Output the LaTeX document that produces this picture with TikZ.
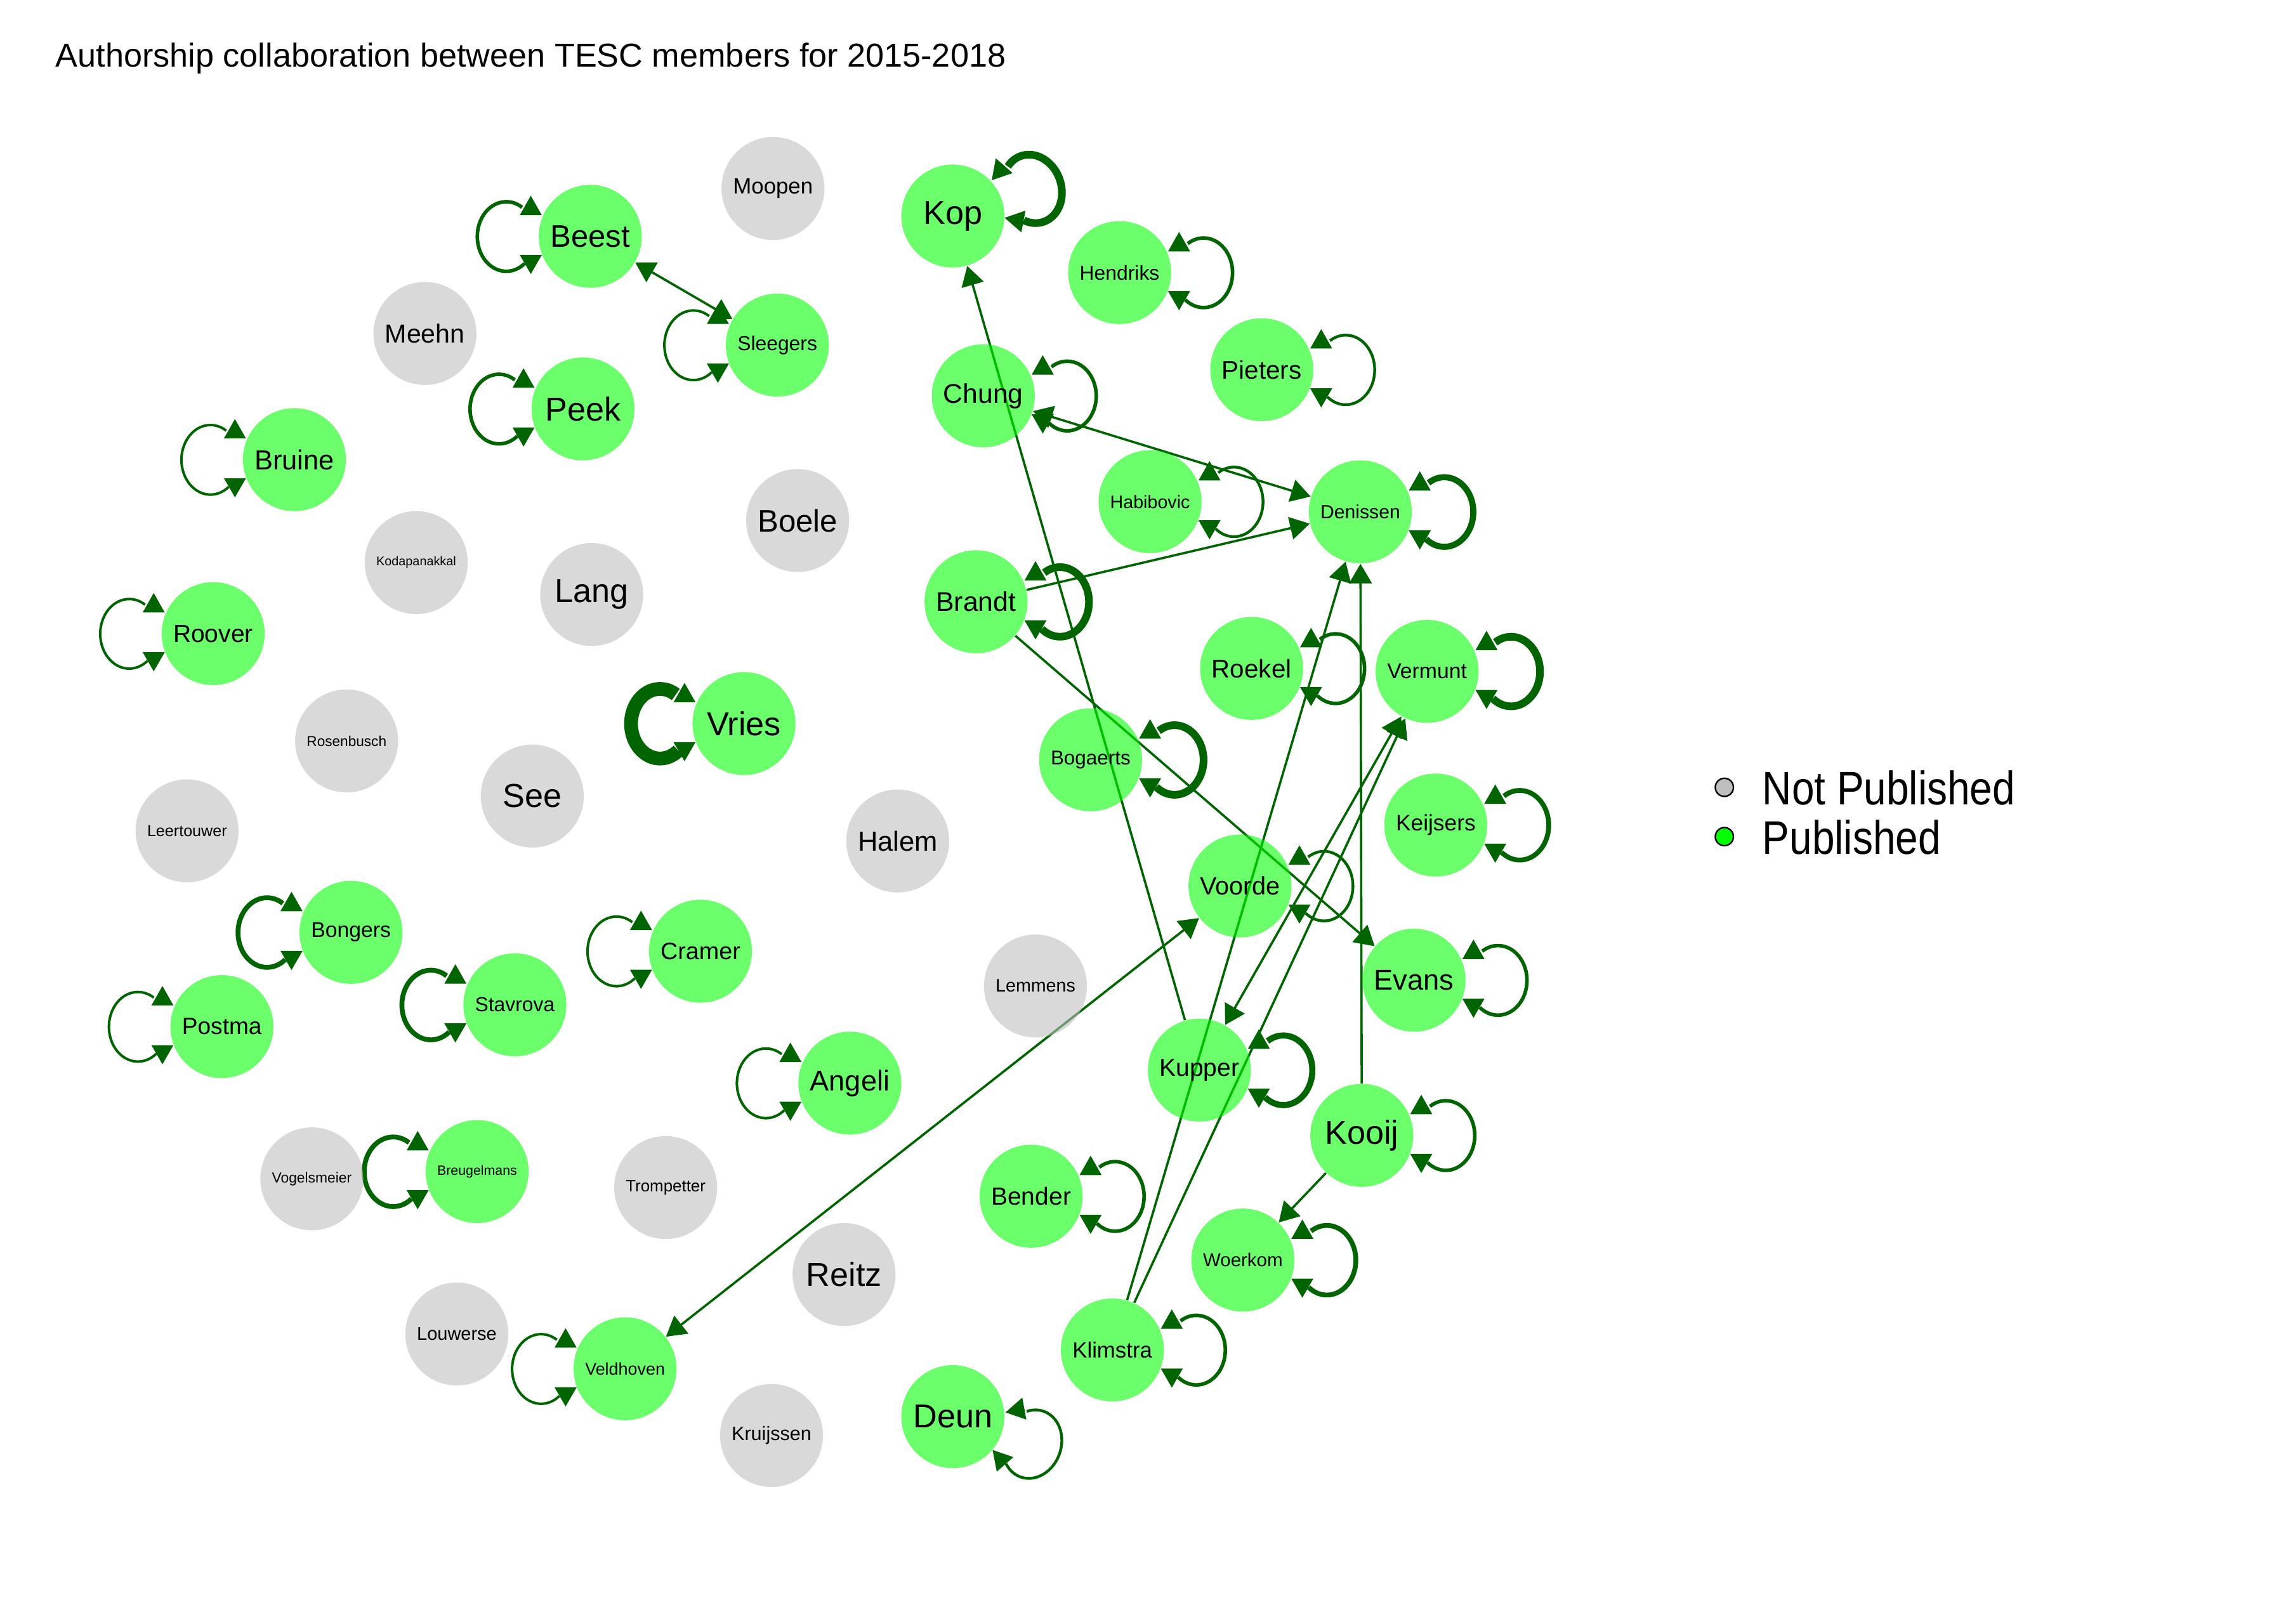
\documentclass[tikz,border=0pt]{standalone}
\usepackage{fontspec}
\setmainfont{Liberation Sans}
\usepackage{graphicx}
\usetikzlibrary{arrows.meta, backgrounds}

\definecolor{pubgreen}{RGB}{0,255,0}
\definecolor{nopubgray}{RGB}{190,190,190}
\definecolor{edgegreen}{RGB}{0,100,0}

% long names are shrunk to the width of a node, short ones keep the full size
\newsavebox\namebox
\newcommand\fitname[1]{\sbox\namebox{#1}%
	\ifdim\wd\namebox>11mm\resizebox{11mm}{!}{#1}\else\usebox\namebox\fi}

\tikzset{
	selfloop/.pic={
			\draw [edgegreen] (47,20) arc[start angle=123, end angle=-129, x radius=20, y radius=24];
			\fill [edgegreen] (41,28) -- (33.4,14.6) -- (48.6,14.6) -- cycle;
			\fill [edgegreen] (41,-26) -- (33.4,-12.8) -- (48.6,-12.8) -- cycle;
		}
}

\begin{document}
\begin{tikzpicture}[
		x=0.2mm, y=0.2mm,
		member/.style={circle, fill opacity=0.58, text opacity=1, minimum size=14.2mm,
				inner sep=0pt, font=\fontsize{13}{15}\selectfont},
		pub/.style={member, fill=pubgreen},
		nopub/.style={member, fill=nopubgray},
		link/.style={draw=edgegreen, line width=0.9pt, -{Triangle[length=2.7mm, width=3.1mm]}},
		twoway/.style={link, {Triangle[length=2.7mm, width=3.1mm]}-{Triangle[length=2.7mm, width=3.1mm]}},
		legenddot/.style={circle, draw=black, line width=0.6pt, minimum size=2.5mm, inner sep=0pt},
		legendtext/.style={anchor=base west, inner sep=0pt, font=\fontsize{18.5}{22}\selectfont},
	]
	\useasboundingbox (0,0) rectangle (1568,1120);

	\node (title) [anchor=base west, inner sep=0pt, font=\fontsize{13}{15}\selectfont]
	at (38, 1074) {Authorship collaboration between TESC members for 2015-2018};

	% members without publications
	\node (moopen)       [nopub] at (533, 990) {\fitname{Moopen}};
	\node (meehn)        [nopub] at (293, 890) {\fitname{Meehn}};
	\node (boele)        [nopub] at (550, 761) {\fitname{Boele}};
	\node (kodapanakkal) [nopub] at (287, 732) {\fitname{Kodapanakkal}};
	\node (lang)         [nopub] at (408, 710) {\fitname{Lang}};
	\node (rosenbusch)   [nopub] at (239, 609) {\fitname{Rosenbusch}};
	\node (see)          [nopub] at (367, 571) {\fitname{See}};
	\node (leertouwer)   [nopub] at (129, 547) {\fitname{Leertouwer}};
	\node (halem)        [nopub] at (619, 540) {\fitname{Halem}};
	\node (lemmens)      [nopub] at (714, 440) {\fitname{Lemmens}};
	\node (vogelsmeier)  [nopub] at (215, 307) {\fitname{Vogelsmeier}};
	\node (trompetter)   [nopub] at (459, 301) {\fitname{Trompetter}};
	\node (reitz)        [nopub] at (582, 241) {\fitname{Reitz}};
	\node (louwerse)     [nopub] at (315, 200) {\fitname{Louwerse}};
	\node (kruijssen)    [nopub] at (532, 130) {\fitname{Kruijssen}};

	% members with publications, left group
	\node (beest)       [pub] at (407, 957) {\fitname{Beest}};
	\node (sleegers)    [pub] at (536, 882) {\fitname{Sleegers}};
	\node (peek)        [pub] at (402, 838) {\fitname{Peek}};
	\node (bruine)      [pub] at (203, 803) {\fitname{Bruine}};
	\node (roover)      [pub] at (147, 683) {\fitname{Roover}};
	\node (vries)       [pub] at (513, 621) {\fitname{Vries}};
	\node (bongers)     [pub] at (242, 477) {\fitname{Bongers}};
	\node (postma)      [pub] at (153, 412) {\fitname{Postma}};
	\node (stavrova)    [pub] at (355, 427) {\fitname{Stavrova}};
	\node (cramer)      [pub] at (483, 464) {\fitname{Cramer}};
	\node (angeli)      [pub] at (586, 373) {\fitname{Angeli}};
	\node (breugelmans) [pub] at (329, 312) {\fitname{Breugelmans}};
	\node (veldhoven)   [pub] at (431, 176) {\fitname{Veldhoven}};

	% members with publications, right group
	\node (kop)       [pub] at (657, 971) {\fitname{Kop}};
	\node (hendriks)  [pub] at (772, 932) {\fitname{Hendriks}};
	\node (pieters)   [pub] at (870, 865) {\fitname{Pieters}};
	\node (chung)     [pub] at (678, 847) {\fitname{Chung}};
	\node (habibovic) [pub] at (793, 774) {\fitname{Habibovic}};
	\node (denissen)  [pub] at (938, 767) {\fitname{Denissen}};
	\node (brandt)    [pub] at (673, 705) {\fitname{Brandt}};
	\node (roekel)    [pub] at (863, 659) {\fitname{Roekel}};
	\node (vermunt)   [pub] at (984, 657) {\fitname{Vermunt}};
	\node (bogaerts)  [pub] at (752, 596) {\fitname{Bogaerts}};
	\node (keijsers)  [pub] at (990, 551) {\fitname{Keijsers}};
	\node (voorde)    [pub] at (855, 509) {\fitname{Voorde}};
	\node (evans)     [pub] at (975, 444) {\fitname{Evans}};
	\node (kupper)    [pub] at (827, 382) {\fitname{Kupper}};
	\node (kooij)     [pub] at (939, 337) {\fitname{Kooij}};
	\node (bender)    [pub] at (711, 295) {\fitname{Bender}};
	\node (woerkom)   [pub] at (857, 251) {\fitname{Woerkom}};
	\node (klimstra)  [pub] at (767, 189) {\fitname{Klimstra}};
	\node (deun)      [pub] at (657, 143) {\fitname{Deun}};

	% legend
	\node (dotno)  [legenddot, fill=nopubgray] at (1189, 577) {};
	\node (dotyes) [legenddot, fill=pubgreen]  at (1189, 543) {};
	\node (keyno)  [legendtext] at (1215, 565) {\scalebox{0.86}[1]{Not Published}};
	\node (keyyes) [legendtext] at (1215, 531) {\scalebox{0.86}[1]{Published}};

	\begin{scope}[on background layer]
		% own papers: loops, left group
		\pic [xscale=-1, line width=1.4pt] at (beest) {selfloop};
		\pic [xscale=-1, line width=1pt]   at (sleegers) {selfloop};
		\pic [xscale=-1, line width=1.4pt] at (peek) {selfloop};
		\pic [xscale=-1, line width=1pt]   at (bruine) {selfloop};
		\pic [xscale=-1, line width=1pt]   at (roover) {selfloop};
		\pic [xscale=-1, line width=5.4pt] at (vries) {selfloop};
		\pic [xscale=-1, line width=1.9pt] at (bongers) {selfloop};
		\pic [xscale=-1, line width=1pt]   at (postma) {selfloop};
		\pic [xscale=-1, line width=1.9pt] at (stavrova) {selfloop};
		\pic [xscale=-1, line width=1pt]   at (cramer) {selfloop};
		\pic [xscale=-1, line width=1pt]   at (angeli) {selfloop};
		\pic [xscale=-1, line width=1.9pt] at (breugelmans) {selfloop};
		\pic [xscale=-1, line width=1pt]   at (veldhoven) {selfloop};
		% own papers: loops, right group
		\pic [rotate=19, line width=3pt] at (kop) {selfloop};
		\pic [line width=1.4pt] at (hendriks) {selfloop};
		\pic [line width=1.1pt] at (pieters) {selfloop};
		\pic [line width=1.4pt] at (chung) {selfloop};
		\pic [line width=1.1pt] at (habibovic) {selfloop};
		\pic [line width=2.4pt] at (denissen) {selfloop};
		\pic [line width=3pt]   at (brandt) {selfloop};
		\pic [line width=1.4pt] at (roekel) {selfloop};
		\pic [line width=3pt]   at (vermunt) {selfloop};
		\pic [line width=3pt]   at (bogaerts) {selfloop};
		\pic [line width=1.9pt] at (keijsers) {selfloop};
		\pic [line width=1.1pt] at (voorde) {selfloop};
		\pic [line width=1.4pt] at (evans) {selfloop};
		\pic [line width=2.4pt] at (kupper) {selfloop};
		\pic [line width=1.4pt] at (kooij) {selfloop};
		\pic [line width=1.4pt] at (bender) {selfloop};
		\pic [line width=1.9pt] at (woerkom) {selfloop};
		\pic [line width=1.4pt] at (klimstra) {selfloop};
		\pic [rotate=-19, line width=1.1pt] at (deun) {selfloop};

		% co-authored papers
		\draw [twoway] (beest) -- (sleegers);
		\draw [twoway] (chung) -- (denissen);
		\draw [link] (brandt) -- (denissen);
		\draw [link] (kupper) -- (kop);
		\draw [link] (brandt) -- (evans);
		\draw [link] (klimstra) -- (denissen);
		\draw [link] (kooij) -- (denissen);
		\draw [link] (klimstra) -- (vermunt);
		\draw [twoway] (vermunt) -- (kupper);
		\draw [twoway] (veldhoven) -- (voorde);
		\draw [link] (kooij) -- (woerkom);
	\end{scope}
\end{tikzpicture}
\end{document}
